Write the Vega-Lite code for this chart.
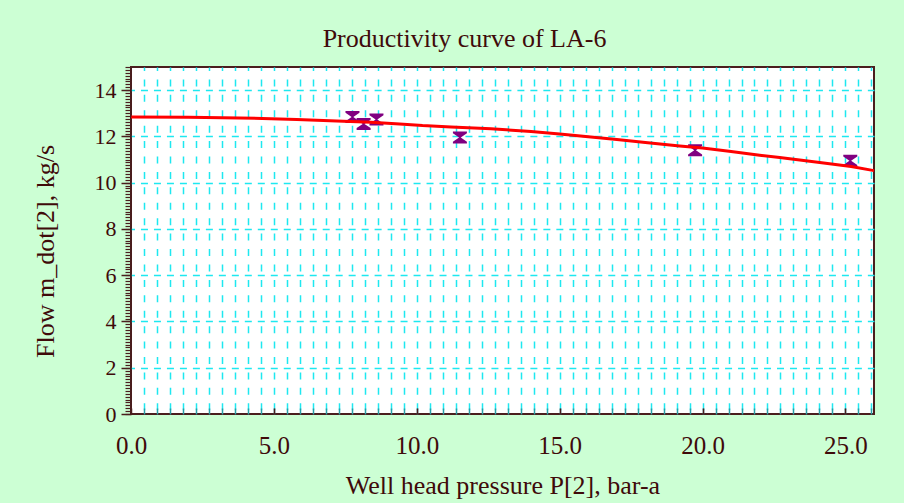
{
  "$schema": "https://vega.github.io/schema/vega-lite/v6.json",
  "autosize": "none",
  "width": 743,
  "height": 347,
  "padding": {"left": 131, "top": 67, "right": 30, "bottom": 89},
  "background": "#ccffd4",
  "title": {"text": "Productivity curve of LA-6", "font": "Liberation Serif", "fontSize": 26, "fontWeight": "normal", "color": "#3f0a0a", "anchor": "middle", "frame": "group", "dx": -38, "offset": 14},
  "config": {
    "view": {"fill": "white", "stroke": "#4a1e1e", "strokeWidth": 2},
    "axis": {"labelFont": "Liberation Serif", "titleFont": "Liberation Serif", "labelColor": "#3f0a0a", "titleColor": "#3f0a0a", "titleFontWeight": "normal", "tickColor": "#4a1e1e", "domain": false}
  },
  "datasets": {
    "curve": [
      {"p": 0, "m": 12.84}, {"p": 2, "m": 12.83}, {"p": 3.8, "m": 12.8}, {"p": 5.8, "m": 12.73},
      {"p": 7.2, "m": 12.67}, {"p": 8.4, "m": 12.61}, {"p": 9.4, "m": 12.54}, {"p": 10.2, "m": 12.47},
      {"p": 11.2, "m": 12.41}, {"p": 12.6, "m": 12.33}, {"p": 14, "m": 12.21}, {"p": 15, "m": 12.1},
      {"p": 16, "m": 11.99}, {"p": 17, "m": 11.87}, {"p": 18, "m": 11.74}, {"p": 19.2, "m": 11.59},
      {"p": 20, "m": 11.5}, {"p": 21, "m": 11.35}, {"p": 22, "m": 11.19}, {"p": 22.7, "m": 11.09},
      {"p": 24.1, "m": 10.87}, {"p": 25.2, "m": 10.7}, {"p": 26, "m": 10.52}
    ],
    "points": [
      {"p": 7.75, "m": 12.84}, {"p": 8.14, "m": 12.54}, {"p": 8.59, "m": 12.73},
      {"p": 11.51, "m": 11.95}, {"p": 19.74, "m": 11.4}, {"p": 25.17, "m": 10.95}
    ]
  },
  "resolve": {"axis": {"x": "independent", "y": "independent"}},
  "layer": [
    {
      "data": {"name": "points"},
      "mark": {"type": "point", "opacity": 0},
      "encoding": {
        "x": {"field": "p", "type": "quantitative", "scale": {"domain": [0, 26], "nice": false, "zero": false}, "axis": null},
        "y": {"field": "m", "type": "quantitative", "scale": {"domain": [0, 15], "nice": false, "zero": false},
          "axis": {"orient": "left", "title": null, "labels": false, "grid": false, "ticks": true, "tickSize": 6, "tickWidth": 1.2, "zindex": 1,
            "values": [0,0.125,0.25,0.375,0.5,0.625,0.75,0.875,1,1.125,1.25,1.375,1.5,1.625,1.75,1.875,2,2.125,2.25,2.375,2.5,2.625,2.75,2.875,3,3.125,3.25,3.375,3.5,3.625,3.75,3.875,4,4.125,4.25,4.375,4.5,4.625,4.75,4.875,5,5.125,5.25,5.375,5.5,5.625,5.75,5.875,6,6.125,6.25,6.375,6.5,6.625,6.75,6.875,7,7.125,7.25,7.375,7.5,7.625,7.75,7.875,8,8.125,8.25,8.375,8.5,8.625,8.75,8.875,9,9.125,9.25,9.375,9.5,9.625,9.75,9.875,10,10.125,10.25,10.375,10.5,10.625,10.75,10.875,11,11.125,11.25,11.375,11.5,11.625,11.75,11.875,12,12.125,12.25,12.375,12.5,12.625,12.75,12.875,13,13.125,13.25,13.375,13.5,13.625,13.75,13.875,14,14.125,14.25,14.375,14.5,14.625,14.75,14.875,15]}}
      }
    },
    {
      "data": {"name": "points"},
      "mark": {"type": "point", "shape": "M-1,-0.86L1,-0.86L1,-0.6L0.12,0L-0.12,0L-1,-0.6Z M-1,0.86L1,0.86L1,0.6L0.12,0L-0.12,0L-1,0.6Z", "filled": true, "color": "#800080", "opacity": 1, "size": 196},
      "encoding": {
        "x": {"field": "p", "type": "quantitative", "scale": {"domain": [0, 26], "nice": false, "zero": false},
          "axis": {"orient": "bottom", "title": null, "labels": false, "grid": true, "gridColor": "#1ee8f0", "gridWidth": 1.5, "gridDash": [7, 8.42], "gridDashOffset": 3.5, "ticks": true, "tickSize": -6, "tickColor": "#2a9ea6", "tickWidth": 1.5, "zindex": 0,
            "values": [0.4545,0.9091,1.3636,1.8182,2.2727,2.7273,3.1818,3.6364,4.0909,4.5455,5,5.4545,5.9091,6.3636,6.8182,7.2727,7.7273,8.1818,8.6364,9.0909,9.5455,10,10.4545,10.9091,11.3636,11.8182,12.2727,12.7273,13.1818,13.6364,14.0909,14.5455,15,15.4545,15.9091,16.3636,16.8182,17.2727,17.7273,18.1818,18.6364,19.0909,19.5455,20,20.4545,20.9091,21.3636,21.8182,22.2727,22.7273,23.1818,23.6364,24.0909,24.5455,25,25.4545,25.9091]}},
        "y": {"field": "m", "type": "quantitative", "scale": {"domain": [0, 15], "nice": false, "zero": false},
          "axis": {"orient": "left", "title": null, "labels": false, "ticks": false, "grid": true, "gridColor": "#1ee8f0", "gridWidth": 1.5, "gridDash": [7, 5.98], "gridDashOffset": 3.5, "zindex": 0, "values": [2, 4, 6, 8, 10, 12, 14]}}
      }
    },
    {
      "data": {"name": "curve"},
      "mark": {"type": "line", "color": "#ff0000", "strokeWidth": 3},
      "encoding": {
        "x": {"field": "p", "type": "quantitative", "scale": {"domain": [0, 26], "nice": false, "zero": false},
          "axis": {"orient": "bottom", "values": [0, 5, 10, 15, 20, 25], "format": ".1f", "grid": false, "ticks": true, "tickSize": -6, "tickWidth": 1.5, "labelFont": "Liberation Serif", "labelFontSize": 25, "labelFlush": false, "labelPadding": 25, "title": "Well head pressure P[2], bar-a", "titleFont": "Liberation Serif", "titleFontSize": 26, "titlePadding": 14, "zindex": 1}},
        "y": {"field": "m", "type": "quantitative", "scale": {"domain": [0, 15], "nice": false, "zero": false},
          "axis": {"orient": "left", "values": [0, 2, 4, 6, 8, 10, 12, 14], "grid": false, "ticks": true, "tickSize": 10, "tickWidth": 1.5, "labelFont": "Liberation Serif", "labelFontSize": 22, "labelPadding": 5, "title": "Flow m_dot[2], kg/s", "titleFont": "Liberation Serif", "titleFontSize": 26, "titlePadding": 36, "titleY": 184, "zindex": 1}}
      }
    }
  ]
}
